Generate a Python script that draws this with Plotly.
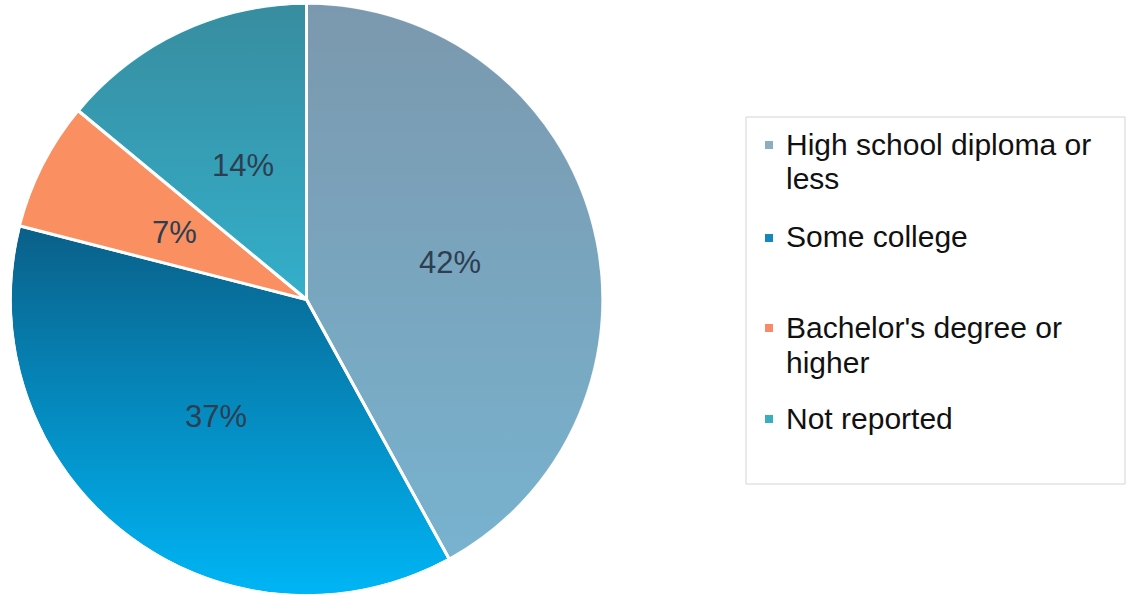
import math
import base64
import textwrap
import plotly.graph_objects as go

labels = ["High school diploma or less", "Some college", "Bachelor's degree or higher", "Not reported"]
values = [42, 37, 7, 14]
# base fill colours (rgba) laid over a vertical shading gradient
slice_colors = ["rgba(150,180,200,0.8)", "rgba(0,0,0,0.0)", "rgba(250,144,98,1)", "rgba(96,238,248,0.5)"]
legend_colors = ["#8DAEC2", "#1387BE", "#F98A68", "#39AEBF"]

W, H = 1128, 605
# pie placement (pixels)
PX0, PX1, PY0, PY1 = 10, 603, 3, 596
CX, CY, R = (PX0 + PX1) / 2, (PY0 + PY1) / 2, (PX1 - PX0) / 2

FONT = "Liberation Sans, Arial, Helvetica, sans-serif"

fig = go.Figure()
fig.add_trace(go.Pie(
    labels=labels,
    values=values,
    sort=False,
    direction="clockwise",
    rotation=0,
    marker=dict(colors=slice_colors, line=dict(color="white", width=3)),
    textinfo="none",
    domain=dict(x=[PX0 / W, PX1 / W], y=[1 - PY1 / H, 1 - PY0 / H]),
    showlegend=False,
    hoverinfo="label+percent",
))

# vertical shading under the (partly transparent) slices
svg = (
    '<svg xmlns="http://www.w3.org/2000/svg" width="200" height="200" viewBox="0 0 200 200">'
    '<defs><linearGradient id="g" x1="0" y1="0" x2="0" y2="1">'
    '<stop offset="0" stop-color="rgb(16,44,71)"/>'
    '<stop offset="1" stop-color="rgb(0,181,245)"/>'
    '</linearGradient></defs>'
    '<circle cx="100" cy="100" r="99.4" fill="url(#g)"/></svg>'
)
src = "data:image/svg+xml;base64," + base64.b64encode(svg.encode()).decode()
images = [dict(source=src, xref="paper", yref="paper", x=PX0 / W, y=1 - PY0 / H,
               sizex=(PX1 - PX0) / W, sizey=(PY1 - PY0) / H, sizing="stretch",
               xanchor="left", yanchor="top", layer="below")]

annotations = []
# percentage labels at half radius, mid-angle of each slice
total = sum(values)
cum = 0
for v in values:
    mid = (cum + v / 2) / total * 2 * math.pi
    cum += v
    px = CX + 0.5 * R * math.sin(mid)
    py = CY - 0.5 * R * math.cos(mid)
    annotations.append(dict(
        xref="paper", yref="paper", x=px / W, y=1 - py / H,
        xanchor="center", yanchor="middle", showarrow=False,
        text=f"{round(v / total * 100)}%",
        font=dict(family=FONT, size=31, color="#2D3E50"),
    ))

# Legend box
shapes = [dict(type="rect", xref="paper", yref="paper",
               x0=746 / W, x1=1125 / W, y0=1 - 484 / H, y1=1 - 117 / H,
               line=dict(color="#D4D4D4", width=1), fillcolor="white", layer="below")]
first_line_y = [144, 237, 327, 418]
LINE = 35
for lab, col, ly in zip(labels, legend_colors, first_line_y):
    my = ly + 1
    shapes.append(dict(type="rect", xref="paper", yref="paper",
                       x0=765 / W, x1=773 / W, y0=1 - (my + 4) / H, y1=1 - (my - 4) / H,
                       line=dict(width=0), fillcolor=col))
    for i, line in enumerate(textwrap.wrap(lab, 22)):
        annotations.append(dict(
            xref="paper", yref="paper", x=784 / W, y=1 - (ly + i * LINE) / H,
            xanchor="left", yanchor="middle", align="left", showarrow=False,
            text=line,
            font=dict(family=FONT, size=30, color="#111111"),
        ))

fig.update_layout(
    width=W, height=H,
    margin=dict(l=0, r=0, t=0, b=0),
    paper_bgcolor="white", plot_bgcolor="white",
    shapes=shapes, annotations=annotations, images=images,
)

fig.write_html("out.html", config={"displayModeBar": False},
               post_script="document.body.style.margin='0';")
